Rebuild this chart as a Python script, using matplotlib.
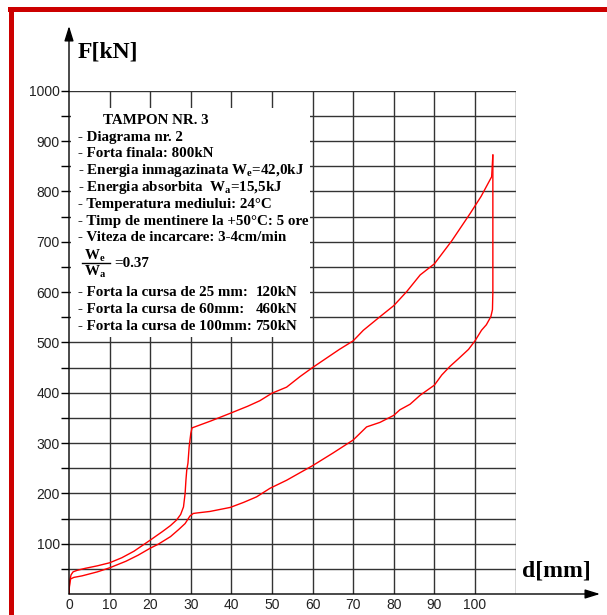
import matplotlib
matplotlib.use('Agg')
import matplotlib.pyplot as plt
from matplotlib.patches import Rectangle

# Curba de incarcare (ramura superioara)
D_LOAD = [0, 0.15, 0.5, 1.0, 2.0, 4, 7, 10, 13, 16, 20, 23, 25, 26.5, 27.5, 28.2,
          28.6, 28.8, 29.0, 29.3, 29.6, 30.0, 30.3, 35, 39.7, 44, 47, 50, 53.6, 56.9,
          60, 66.6, 70, 72.5, 76.6, 80, 83.2, 86.5, 90, 94.3, 98.8, 101.5, 104.1, 104.4]
F_LOAD = [0, 25, 38, 44, 47, 51, 56, 62, 72, 85, 107, 124, 136, 147, 158, 173,
          200, 226, 246, 260, 293, 319, 330, 344, 359, 373, 384, 399, 411, 432,
          450, 486, 503, 524, 551, 573, 601, 634, 656, 702, 756, 790, 829, 872]

# Curba de descarcare (ramura inferioara)
D_UNLOAD = [104.4, 104.4, 104.3, 103.9, 102.8, 101.6, 100, 98.4, 96, 93.8, 91.8, 90,
            86.5, 84, 81.5, 80, 76.6, 73.3, 70, 65, 60, 56.9, 53.6, 49.5, 46.2, 43,
            39.7, 34.7, 31.5, 30.6, 29.8, 28.6, 27, 25, 22, 20, 17, 14, 10, 7, 3.2,
            1.2, 0.4, 0.1, 0]
F_UNLOAD = [872, 600, 565, 551, 535, 524, 503, 486, 468, 452, 435, 415,
            395, 377, 366, 355, 341, 332, 306, 280, 255, 241, 226, 210, 193, 182,
            172, 164, 161, 160, 155, 140, 128, 114, 99, 91, 77, 65, 52, 44, 36,
            33, 30, 15, 0]

X_TICKS = list(range(0, 101, 10))
Y_TICKS = list(range(100, 1001, 100))

INFO_TITLE = 'TAMPON NR. 3'
INFO_LINES = [
    '- Diagrama nr. 2',
    '- Forta finala: 800kN',
    r'- Energia inmagazinata W$_\mathrm{e}$=42,0kJ',
    r'- Energia absorbita  W$_\mathrm{a}$=15,5kJ',
    '- Temperatura mediului: 24°C',
    '- Timp de mentinere la +50°C: 5 ore',
    '- Viteza de incarcare: 3-4cm/min',
]
FORCE_LABELS = ['- Forta la cursa de 25 mm:', '- Forta la cursa de 60mm:',
                '- Forta la cursa de 100mm:']
FORCE_VALUES = ['120kN', '460kN', '750kN']

plt.rcParams['mathtext.fontset'] = 'custom'
plt.rcParams['mathtext.rm'] = 'Liberation Serif:bold'
plt.rcParams['mathtext.it'] = 'Liberation Serif:bold'
plt.rcParams['mathtext.bf'] = 'Liberation Serif:bold'

W, H = 607, 615
fig = plt.figure(figsize=(W / 100, H / 100), dpi=100)
ax = fig.add_axes([69 / W, 21 / H, 446.6 / W, 503.3 / H])
ax.set_xlim(0, 110)
ax.set_ylim(0, 1000)
for s in ax.spines.values():
    s.set_visible(False)

# grila
grid_kw = dict(color='#333333', linewidth=1.0, zorder=1)
ax.vlines(range(10, 111, 10), 0, 1000, **grid_kw)
ax.hlines(range(50, 1001, 50), 0, 110, **grid_kw)

# caseta alba cu textul
ax.add_patch(Rectangle((0.4, 510), 59.0, 455, facecolor='white',
                       edgecolor='none', zorder=2))

ax.plot(D_LOAD, F_LOAD, color='#ff0000', linewidth=1.0, zorder=3)
ax.plot(D_UNLOAD, F_UNLOAD, color='#ff0000', linewidth=1.0, zorder=3)

# axe cu sageti
arrow = dict(arrowstyle='-|>,head_length=0.9,head_width=0.28', color='black',
             lw=1.0, shrinkA=0, shrinkB=0)
ax.annotate('', xy=(531 / 446.6, 0), xytext=(0, 0), xycoords='axes fraction',
            arrowprops=arrow, annotation_clip=False, zorder=4)
ax.annotate('', xy=(0, 568 / 503.3), xytext=(0, 0), xycoords='axes fraction',
            arrowprops=arrow, annotation_clip=False, zorder=4)

ax.set_xticks(X_TICKS)
ax.set_xticklabels([str(v) for v in X_TICKS])
ax.set_yticks(Y_TICKS)
ax.set_yticklabels([str(v) for v in Y_TICKS])
ax.set_yticks(range(50, 1001, 100), minor=True)
ax.tick_params(axis='x', length=0, pad=3, labelsize=10, labelcolor='#222222')
ax.tick_params(axis='y', which='both', length=6, width=1.0, pad=0.5,
               direction='out', labelsize=10, labelcolor='#222222')
for lab in ax.get_xticklabels() + ax.get_yticklabels():
    lab.set_fontfamily('Liberation Sans')

serif = dict(family='Liberation Serif', fontweight='bold', color='black', zorder=5)
fig.text(108 / W, 1 - 52 / H, 'F[kN]', fontsize=17, ha='center', va='center', **serif)
fig.text(556 / W, 1 - 571 / H, 'd[mm]', fontsize=17, ha='center', va='center', **serif)

fs = 10.8
ax.text(8.4, 940, INFO_TITLE, fontsize=fs, ha='left', va='center', **serif)
for i, line in enumerate(INFO_LINES):
    ax.text(2.3, 908 - i * 33.4, line, fontsize=fs, ha='left', va='center', **serif)
ax.text(6.4, 671, r'W$_\mathrm{e}$', fontsize=fs, ha='center', va='center', **serif)
ax.text(6.4, 640, r'W$_\mathrm{a}$', fontsize=fs, ha='center', va='center', **serif)
ax.plot([3.1, 10.0], [658, 658], color='black', linewidth=1.0, zorder=5)
ax.text(11.1, 656, '=0.37', fontsize=fs, ha='left', va='center', **serif)
for i, (lab, val) in enumerate(zip(FORCE_LABELS, FORCE_VALUES)):
    y = 599 - i * 33.5
    ax.text(2.3, y, lab, fontsize=fs, ha='left', va='center', **serif)
    ax.text(56.2, y, val, fontsize=fs, ha='right', va='center', **serif)

# rama rosie
fig.add_artist(Rectangle((8 / W, 1 - 12 / H), 1, 5 / H, transform=fig.transFigure,
                         facecolor='#cc0000', edgecolor='none'))
fig.add_artist(Rectangle((9 / W, 0), 5 / W, 1 - 7 / H, transform=fig.transFigure,
                         facecolor='#cc0000', edgecolor='none'))

fig.savefig('out.png', dpi=100)
